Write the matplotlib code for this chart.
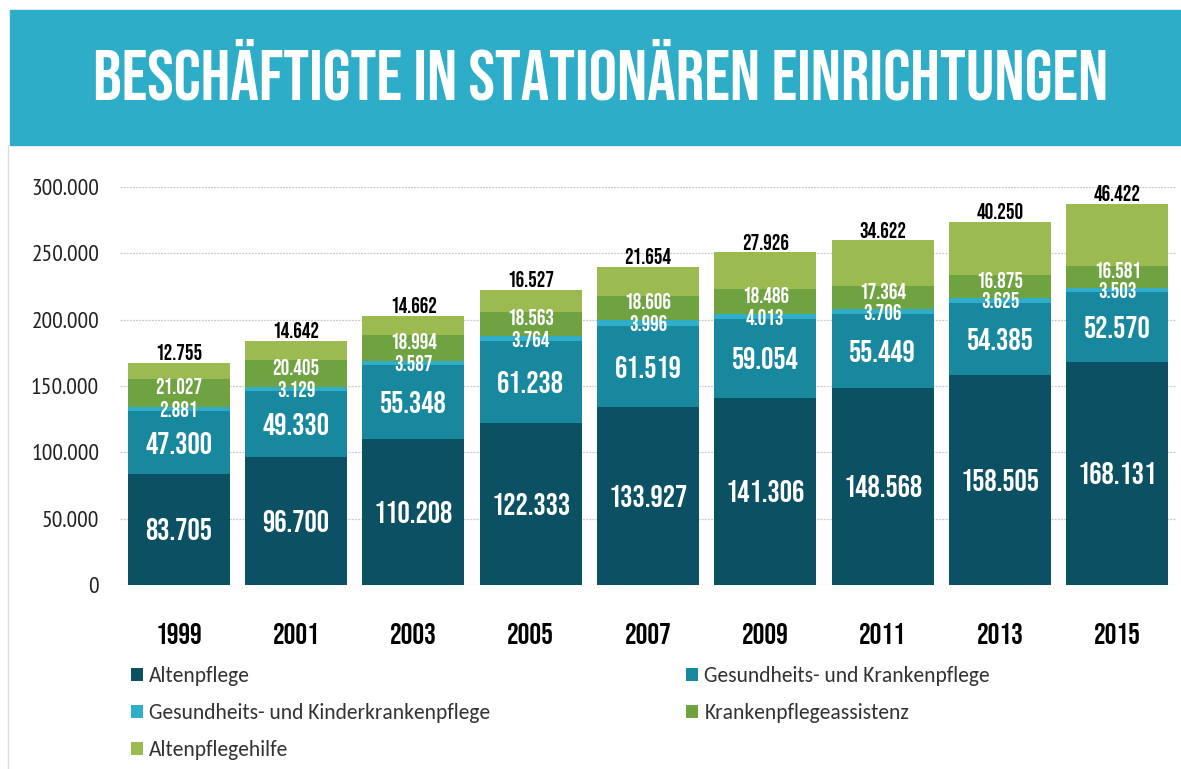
import matplotlib.pyplot as plt
import numpy as np
from matplotlib.patches import Rectangle

years = ['1999', '2001', '2003', '2005', '2007', '2009', '2011', '2013', '2015']
altenpflege = [83705, 96700, 110208, 122333, 133927, 141306, 148568, 158505, 168131]
kranken = [47300, 49330, 55348, 61238, 61519, 59054, 55449, 54385, 52570]
kinderkranken = [2881, 3129, 3587, 3764, 3996, 4013, 3706, 3625, 3503]
assistenz = [21027, 20405, 18994, 18563, 18606, 18486, 17364, 16875, 16581]
hilfe = [12755, 14642, 14662, 16527, 21654, 27926, 34622, 40250, 46422]

series = [altenpflege, kranken, kinderkranken, assistenz, hilfe]
names = ['Altenpflege', 'Gesundheits- und Krankenpflege',
         'Gesundheits- und Kinderkrankenpflege', 'Krankenpflegeassistenz',
         'Altenpflegehilfe']
colors = ['#0b5163', '#18889f', '#2fadc9', '#6fa342', '#9bbb51']

BEBAS = ['Bebas Neue', 'DejaVu Sans']
NARROW = ['PT Sans Narrow', 'DejaVu Sans']
LEGEND_FONT = ['Carlito', 'DejaVu Sans']
W, H = 1181, 769


def fmt(v):
    return f'{v:,}'.replace(',', '.')


def main():
    fig = plt.figure(figsize=(W / 100, H / 100), dpi=100)

    # header banner
    fig.patches.append(Rectangle((10 / W, (H - 145) / H), 1 - 10 / W, 135 / H,
                                 transform=fig.transFigure, color='#2eadc9', zorder=0))
    fig.add_artist(plt.Line2D([8 / W, 8 / W], [0, (H - 145) / H],
                              transform=fig.transFigure, color='#dddddd', lw=1))
    fig.text(601 / W, (H - 99) / H, 'BESCHÄFTIGTE IN STATIONÄREN EINRICHTUNGEN',
             ha='center', va='baseline', color='white', fontsize=51, family=BEBAS)

    ax = fig.add_axes([120 / W, 184 / H, 1056 / W, 398 / H])
    x = np.arange(len(years))
    bottom = np.zeros(len(years))
    containers = []
    for vals, col, name in zip(series, colors, names):
        c = ax.bar(x, vals, width=0.87, bottom=bottom, color=col, label=name, zorder=2)
        containers.append(c)
        bottom += np.array(vals)

    # segment labels
    big = dict(color='white', fontsize=22, family=BEBAS)
    small = dict(color='white', fontsize=15.5, family=BEBAS)
    ax.bar_label(containers[0], labels=[fmt(v) for v in altenpflege], label_type='center', **big)
    ax.bar_label(containers[1], labels=[fmt(v) for v in kranken], label_type='center', **big)
    ax.bar_label(containers[2], labels=[fmt(v) for v in kinderkranken], label_type='center', **small)
    base = np.array(altenpflege) + np.array(kranken) + np.array(kinderkranken)
    for i, v in enumerate(assistenz):
        ax.annotate(fmt(v), (x[i], base[i] + v / 2), xytext=(0, 5), textcoords='offset points',
                    ha='center', va='center', **small)
    ax.bar_label(containers[4], labels=[fmt(v) for v in hilfe], label_type='edge', padding=2,
                 color='black', fontsize=15.5, family=BEBAS)

    ax.set_xlim(-0.5, len(years) - 0.5)
    ax.set_ylim(0, 300000)
    ax.set_yticks(np.arange(0, 300001, 50000))
    ax.set_yticklabels([fmt(v) for v in range(0, 300001, 50000)], family=NARROW,
                       fontsize=17, color='#222222')
    ax.set_xticks(x)
    ax.set_xticklabels(years, family=BEBAS, fontsize=21)
    ax.tick_params(axis='x', length=0, pad=27)
    ax.tick_params(axis='y', length=0, pad=15)
    ax.grid(axis='y', color='#c8c8c8', lw=0.9, linestyle=(0, (1.5, 1)), zorder=0)
    for s in ax.spines.values():
        s.set_visible(False)

    # legend in two columns
    h = containers
    lkw = dict(frameon=False, labelcolor='#333333', handlelength=0.55,
               handleheight=0.55, handletextpad=0.3, borderpad=0, borderaxespad=0,
               labelspacing=0.8, loc='upper left', prop={'family': LEGEND_FONT, 'size': 15.5})
    fig.legend([h[0], h[2], h[4]], [names[0], names[2], names[4]],
               bbox_to_anchor=(131 / W, (H - 666) / H), **lkw)
    fig.legend([h[1], h[3]], [names[1], names[3]],
               bbox_to_anchor=(686 / W, (H - 666) / H), **lkw)

    fig.savefig('out.png', dpi=100)


if __name__ == '__main__':
    main()
